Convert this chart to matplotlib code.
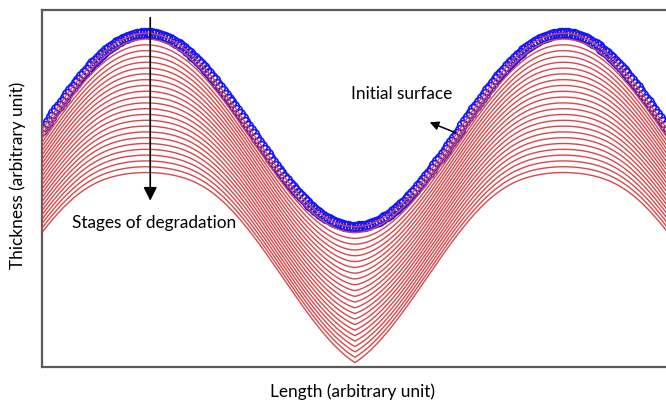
import numpy as np
import matplotlib.pyplot as plt

plt.rcParams['font.family'] = ['Lato', 'DejaVu Sans']

# initial surface: sine wave, thickness in units of its amplitude
amplitude = 1.0
wavelength = 2 * np.pi
length_max = 3.02 * np.pi

# drop of the crest below the initial surface at each stage of degradation
crest_drop = [0.00, 0.06, 0.12, 0.18, 0.24, 0.30, 0.36, 0.42, 0.48, 0.54,
              0.60, 0.66, 0.72, 0.78, 0.84, 0.90, 0.96, 1.02, 1.08, 1.14,
              1.20, 1.26, 1.32, 1.38, 1.44]

# elliptical front used for the last stage (half width along length, height along thickness)
front_half_width = 0.50
front_height = 0.113

x = np.linspace(-0.7, length_max + 0.7, 2600)
dx = x[1] - x[0]
surface = amplitude * np.sin(2 * np.pi * x / wavelength)


def degrade(y, a, b, drop):
    # grey-level dilation with an elliptical element, then lowered by the crest drop
    n = int(a / dx)
    out = y.copy()
    for j in range(-n, n + 1):
        u = j * dx
        cap = b * np.sqrt(max(0.0, 1 - (u / a) ** 2)) - b
        out = np.maximum(out, np.roll(y, j) + cap)
    return out - drop


fig = plt.figure(figsize=(6.66, 4.05), dpi=100)
ax = fig.add_axes([42 / 666, 38 / 405, 630 / 666, 357 / 405])

# initial surface
keep = (x >= 0) & (x <= length_max)
xm = x[keep][::10]
ym = surface[keep][::10]
ax.plot(xm, ym, 'o', mfc='none', mec='#1414ff', ms=7, mew=1.2, zorder=2)

# stages of degradation
for d in crest_drop:
    frac = d / crest_drop[-1]
    if frac == 0:
        y = surface
    else:
        y = degrade(surface, front_half_width * frac, front_height * frac, d)
    ax.plot(x, y, color='#d9474a', lw=1.0, zorder=3)

ax.set_xlim(0, length_max)
ax.set_ylim(-2.45, 1.24)
ax.set_xticks([])
ax.set_yticks([])
for side in ['left', 'bottom', 'top']:
    ax.spines[side].set_color('#5a5a5a')
    ax.spines[side].set_linewidth(1.6)
ax.spines['right'].set_visible(False)

ax.annotate('', xy=(1.63, -0.76), xytext=(1.63, 1.19),
            arrowprops=dict(arrowstyle='-|>', color='black', lw=1.2,
                            mutation_scale=20), zorder=5)
ax.text(0.45, -0.96, 'Stages of degradation', fontsize=12.4, va='center', zorder=6)

ax.annotate('', xy=(5.8, 0.09), xytext=(6.27, -0.04),
            arrowprops=dict(arrowstyle='-|>', color='black', lw=1.1,
                            mutation_scale=13), zorder=5)
ax.text(4.66, 0.37, 'Initial surface', fontsize=12.4, va='center', zorder=6)

fig.text(352 / 666, 1 - 392 / 405, 'Length (arbitrary unit)', fontsize=12.4,
         ha='center', va='center')
fig.text(18 / 666, 1 - 175 / 405, 'Thickness (arbitrary unit)', fontsize=12.4,
         ha='center', va='center', rotation=90)

fig.savefig('out.png', dpi=100)
